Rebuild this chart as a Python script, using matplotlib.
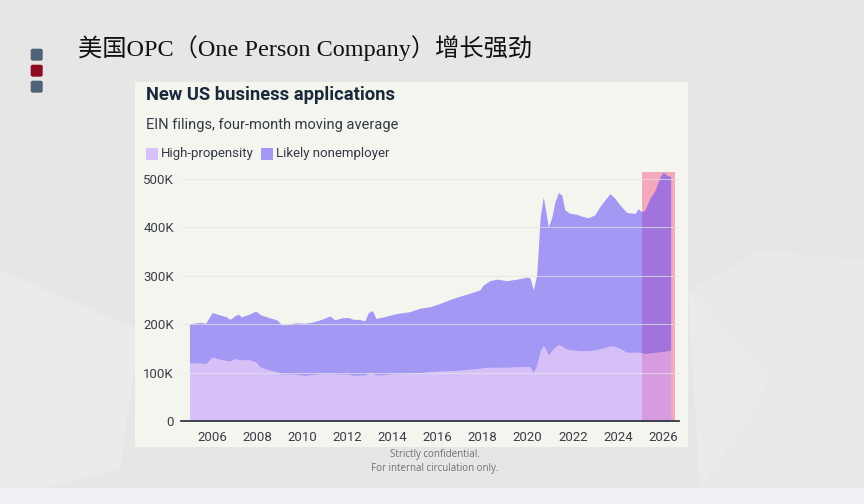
import matplotlib.pyplot as plt
from matplotlib.patches import Rectangle, FancyBboxPatch, Polygon

# New US business applications (EIN filings, four-month moving average), in thousands
# "total" is the top of the stacked area
dates = [2005.0, 2005.5, 2005.72, 2006.0, 2006.3, 2006.65, 2006.8, 2007.0, 2007.17, 2007.3,
         2007.6, 2007.94, 2008.13, 2008.5, 2008.87, 2009.09, 2009.31, 2009.68, 2010.12, 2010.42,
         2010.86, 2011.23, 2011.45, 2011.75, 2012.04, 2012.27, 2012.5, 2012.78, 2012.93, 2013.12,
         2013.27, 2013.6, 2014.19, 2014.78, 2015.22, 2015.67, 2016.11, 2016.55, 2017.0, 2017.44,
         2017.88, 2018.03, 2018.33, 2018.63, 2019.07, 2019.51, 2019.96, 2020.1, 2020.25, 2020.4,
         2020.55, 2020.69, 2020.81, 2020.91, 2021.06, 2021.21, 2021.36, 2021.51, 2021.65, 2021.88,
         2022.17, 2022.47, 2022.69, 2022.98, 2023.2, 2023.43, 2023.65, 2023.87, 2024.09, 2024.39,
         2024.76, 2024.9, 2025.05, 2025.2, 2025.42, 2025.65, 2025.87, 2026.01, 2026.17, 2026.34]
total = [201, 204, 202, 224, 220, 215, 210, 217, 221, 215,
         220, 227, 220, 214, 209, 199, 199, 203, 202, 204,
         210, 217, 209, 213, 214, 210, 210, 207, 224, 228,
         212, 215, 222, 226, 233, 236, 243, 251, 258, 264,
         271, 281, 290, 293, 290, 293, 297, 296, 271, 302,
         419, 463, 432, 401, 419, 453, 472, 467, 436, 429,
         427, 422, 420, 426, 443, 457, 470, 460, 446, 431,
         429, 439, 432, 436, 460, 477, 505, 514, 508, 505]
high_prop = [120, 120, 118, 132, 128, 125, 124, 129, 127, 126,
             127, 122, 112, 106, 102, 97, 97, 97, 94, 96,
             98, 98, 97, 97, 97, 94, 95, 95, 98, 99,
             95, 96, 98, 99, 100, 102, 103, 104, 105, 107,
             109, 110, 111, 111, 111, 112, 113, 112, 100, 115,
             145, 156, 148, 136, 145, 153, 158, 155, 150, 147,
             146, 145, 145, 147, 149, 152, 155, 154, 150, 142,
             142, 142, 141, 139, 141, 142, 143, 144, 145, 147]
year_ticks = list(range(2006, 2027, 2))
y_ticks = [0, 100, 200, 300, 400, 500]
y_labels = ["0", "100K", "200K", "300K", "400K", "500K"]
highlight = (2025.07, 2026.55)

W, H = 864, 504


def fx(px):
    return px / W


def fy(py):
    return 1 - py / H


fig = plt.figure(figsize=(8.64, 5.04), dpi=100)
fig.patch.set_facecolor("#e7e6e7")

# slide background: soft polygons and bottom strip
for pts, col in [
    ([(0, 270), (140, 330), (120, 470), (40, 490), (0, 490)], "#ecebeb"),
    ([(690, 290), (760, 250), (864, 260), (864, 490), (700, 490)], "#e9e9e8"),
    ([(600, 0), (864, 0), (864, 60), (690, 290)], "#e8e7e8"),
    ([(688, 290), (770, 380), (700, 490)], "#ebebea"),
]:
    fig.patches.append(Polygon([(fx(x), fy(y)) for x, y in pts], closed=True,
                               transform=fig.transFigure, facecolor=col, edgecolor="none", zorder=0))
fig.patches.append(Rectangle((0, 0), 1, fy(488), transform=fig.transFigure,
                             facecolor="#eef0f4", edgecolor="none", zorder=0))

# slide markers and title
for y0, col in [(48.7, "#4d6377"), (64.7, "#8c0c24"), (80.7, "#4d6377")]:
    fig.patches.append(FancyBboxPatch((fx(30.7), fy(y0 + 12)), 12 / W, 12 / H,
                                      boxstyle="round,pad=0,rounding_size=0.003",
                                      transform=fig.transFigure, facecolor=col,
                                      edgecolor="none", zorder=1))
fig.text(fx(78), fy(48), "美国OPC（One Person Company）增长强劲", fontsize=17.5,
         family=["Liberation Serif", "Noto Sans CJK SC"], color="#111111", va="center")

# chart panel
fig.patches.append(Rectangle((fx(135), fy(447)), (688 - 135) / W, (447 - 82) / H,
                             transform=fig.transFigure, facecolor="#f5f5f0",
                             edgecolor="none", zorder=1))
fig.text(fx(146), fy(95), "New US business applications", fontsize=13.2, fontweight="bold",
         family="Roboto", color="#1b2a3b", va="center")
fig.text(fx(146), fy(125), "EIN filings, four-month moving average", fontsize=10.5,
         family="Roboto", color="#333a44", va="center")

# legend
for x0, col, label in [(145.7, "#d8c0f8", "High-propensity"), (260.7, "#a398f5", "Likely nonemployer")]:
    fig.patches.append(Rectangle((fx(x0), fy(160)), 12 / W, 12 / H, transform=fig.transFigure,
                                 facecolor=col, edgecolor="none", zorder=2))
    fig.text(fx(x0 + 15.5), fy(153.5), label, fontsize=9.5, family="Roboto",
             color="#333a44", va="center")

ax = fig.add_axes([fx(181), fy(421), (679 - 181) / W, (421 - 169.3) / H])
ax.set_zorder(5)
ax.set_facecolor("none")
ax.set_xlim(2004.625, 2026.71)
ax.set_ylim(0, 520)

ax.axvspan(highlight[0], highlight[1], ymin=0, ymax=514 / 520, color="#f4a8bc", lw=0, zorder=1)
ax.fill_between(dates, 0, high_prop, color="#be91ff", alpha=0.53, lw=0, zorder=2)
ax.fill_between(dates, high_prop, total, color="#5a45f9", alpha=0.53, lw=0, zorder=2)

for v in y_ticks[1:]:
    ax.axhline(v, color="#e4e4e4", lw=0.8, alpha=0.7, zorder=3)

ax.set_xticks(year_ticks)
ax.set_xticklabels([str(y) for y in year_ticks])
ax.set_yticks(y_ticks)
ax.set_yticklabels(y_labels)
ax.tick_params(length=0, labelsize=9.5, labelcolor="#3a3f48", pad=7)
for lab in ax.get_xticklabels() + ax.get_yticklabels():
    lab.set_family("Roboto")
ax.tick_params(axis="y", pad=5)

for s in ["top", "right", "left"]:
    ax.spines[s].set_visible(False)
ax.spines["bottom"].set_color("#2f3541")
ax.spines["bottom"].set_linewidth(1.3)
ax.spines["bottom"].set_zorder(4)

fig.text(fx(435), fy(455), "Strictly confidential.", fontsize=7, family="Open Sans",
         color="#707070", ha="center", va="center")
fig.text(fx(435), fy(468), "For internal circulation only.", fontsize=7, family="Open Sans",
         color="#707070", ha="center", va="center")

fig.savefig("out.png", dpi=100, facecolor=fig.get_facecolor())
